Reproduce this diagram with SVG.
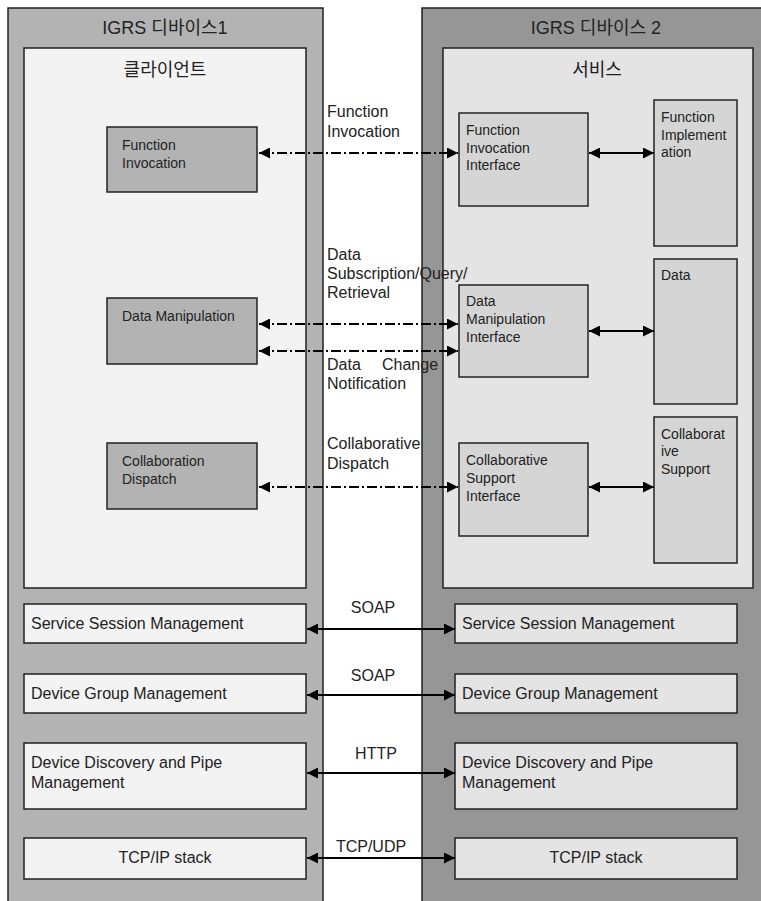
<svg xmlns="http://www.w3.org/2000/svg" width="761" height="901" viewBox="0 0 761 901">
<style>
text{font-family:"Liberation Sans",Arial,"Noto Sans CJK KR",sans-serif;fill:#222}
.t{font-size:18px}
.n{font-size:14px}
.l{font-size:16px}
.b{stroke:#222;stroke-width:1.5}
.c1{fill:#b3b3b3}
.c2{fill:#d5d5d5}
.f1{fill:#f3f3f3}
.f2{fill:#e4e4e4}
.dd{stroke:#000;stroke-width:2;fill:none;stroke-dasharray:10 3 2 3}
.sl{stroke:#000;stroke-width:2;fill:none}
</style>
<defs>
<marker id="ah" markerUnits="userSpaceOnUse" markerWidth="11" markerHeight="11" refX="10" refY="5" orient="auto-start-reverse" viewBox="0 0 10 10">
<path d="M0,0 L10,5 L0,10 z" fill="#000"/>
</marker>
</defs>
<rect width="761" height="901" fill="#fff"/>
<g id="device1">
<rect x="8" y="8" width="315" height="900" fill="#b3b3b3" class="b"/>
<text class="t" x="165" y="34" text-anchor="middle">IGRS 디바이스1</text>
</g>
<g id="device2">
<rect x="422" y="8" width="345" height="900" fill="#969696" class="b"/>
<text class="t" x="596" y="34" text-anchor="middle">IGRS 디바이스 2</text>
</g>
<g id="client">
<rect x="24" y="48" width="282" height="540" class="b f1"/>
<text class="t" x="165" y="76" text-anchor="middle">클라이언트</text>
</g>
<g id="service">
<rect x="443" y="48" width="310" height="540" class="b f2"/>
<text class="t" x="597" y="76" text-anchor="middle">서비스</text>
</g>
<g id="fi">
<rect x="107" y="127" width="150" height="65" class="b c1"/>
<text class="n" x="122" y="150">Function</text>
<text class="n" x="122" y="168">Invocation</text>
</g>
<g id="dm">
<rect x="107" y="298" width="150" height="66" class="b c1"/>
<text class="n" x="122" y="321">Data Manipulation</text>
</g>
<g id="cd">
<rect x="107" y="443" width="150" height="66" class="b c1"/>
<text class="n" x="122" y="466">Collaboration</text>
<text class="n" x="122" y="484">Dispatch</text>
</g>
<g id="fii">
<rect x="459" y="113" width="129" height="93" class="b c2"/>
<text class="n" x="466" y="135">Function</text>
<text class="n" x="466" y="153">Invocation</text>
<text class="n" x="466" y="170">Interface</text>
</g>
<g id="fimpl">
<rect x="654" y="100" width="83" height="146" class="b c2"/>
<text class="n" x="661" y="122">Function</text>
<text class="n" x="661" y="140">Implement</text>
<text class="n" x="661" y="157">ation</text>
</g>
<g id="dmi">
<rect x="459" y="285" width="129" height="92" class="b c2"/>
<text class="n" x="466" y="306">Data</text>
<text class="n" x="466" y="324">Manipulation</text>
<text class="n" x="466" y="342">Interface</text>
</g>
<g id="data">
<rect x="654" y="259" width="83" height="145" class="b c2"/>
<text class="n" x="661" y="280">Data</text>
</g>
<g id="csi">
<rect x="459" y="443" width="129" height="93" class="b c2"/>
<text class="n" x="466" y="465">Collaborative</text>
<text class="n" x="466" y="483">Support</text>
<text class="n" x="466" y="501">Interface</text>
</g>
<g id="cs">
<rect x="654" y="417" width="83" height="146" class="b c2"/>
<text class="n" x="661" y="439">Collaborat</text>
<text class="n" x="661" y="456">ive</text>
<text class="n" x="661" y="474">Support</text>
</g>
<g id="ssm1">
<rect x="24" y="604" width="282" height="39" class="b f1"/>
<text class="l" x="31" y="629">Service Session Management</text>
</g>
<g id="dgm1">
<rect x="24" y="674" width="282" height="39" class="b f1"/>
<text class="l" x="31" y="699">Device Group Management</text>
</g>
<g id="ddp1">
<rect x="24" y="743" width="282" height="66" class="b f1"/>
<text class="l" x="31" y="768">Device Discovery and Pipe</text>
<text class="l" x="31" y="788">Management</text>
</g>
<g id="tcp1">
<rect x="24" y="838" width="282" height="41" class="b f1"/>
<text class="l" x="165" y="863" text-anchor="middle">TCP/IP stack</text>
</g>
<g id="ssm2">
<rect x="455" y="604" width="282" height="39" class="b f2"/>
<text class="l" x="462" y="629">Service Session Management</text>
</g>
<g id="dgm2">
<rect x="455" y="674" width="282" height="39" class="b f2"/>
<text class="l" x="462" y="699">Device Group Management</text>
</g>
<g id="ddp2">
<rect x="455" y="743" width="282" height="66" class="b f2"/>
<text class="l" x="462" y="768">Device Discovery and Pipe</text>
<text class="l" x="462" y="788">Management</text>
</g>
<g id="tcp2">
<rect x="455" y="838" width="282" height="41" class="b f2"/>
<text class="l" x="596" y="863" text-anchor="middle">TCP/IP stack</text>
</g>
<g id="connectors">
<line x1="259" y1="153" x2="458" y2="153" class="dd" marker-start="url(#ah)" marker-end="url(#ah)"/>
<line x1="259" y1="324" x2="458" y2="324" class="dd" marker-start="url(#ah)" marker-end="url(#ah)"/>
<line x1="259" y1="351" x2="458" y2="351" class="dd" marker-start="url(#ah)" marker-end="url(#ah)"/>
<line x1="259" y1="487" x2="458" y2="487" class="dd" marker-start="url(#ah)" marker-end="url(#ah)"/>
<line x1="589" y1="153" x2="654" y2="153" class="sl" marker-start="url(#ah)" marker-end="url(#ah)"/>
<line x1="589" y1="331" x2="654" y2="331" class="sl" marker-start="url(#ah)" marker-end="url(#ah)"/>
<line x1="589" y1="487" x2="654" y2="487" class="sl" marker-start="url(#ah)" marker-end="url(#ah)"/>
<line x1="307" y1="629" x2="455" y2="629" class="sl" marker-start="url(#ah)" marker-end="url(#ah)"/>
<line x1="307" y1="695" x2="455" y2="695" class="sl" marker-start="url(#ah)" marker-end="url(#ah)"/>
<line x1="307" y1="773" x2="455" y2="773" class="sl" marker-start="url(#ah)" marker-end="url(#ah)"/>
<line x1="307" y1="858" x2="455" y2="858" class="sl" marker-start="url(#ah)" marker-end="url(#ah)"/>
<text class="l" x="327" y="117">Function</text>
<text class="l" x="327" y="137">Invocation</text>
<text class="l" x="327" y="260">Data</text>
<text class="l" x="327" y="279">Subscription/Query/</text>
<text class="l" x="327" y="298">Retrieval</text>
<text class="l" x="327" y="370">Data</text>
<text class="l" x="382" y="370">Change</text>
<text class="l" x="327" y="389">Notification</text>
<text class="l" x="327" y="449">Collaborative</text>
<text class="l" x="327" y="469">Dispatch</text>
<text class="l" x="373" y="613" text-anchor="middle">SOAP</text>
<text class="l" x="373" y="681" text-anchor="middle">SOAP</text>
<text class="l" x="376" y="759" text-anchor="middle">HTTP</text>
<text class="l" x="371" y="852" text-anchor="middle">TCP/UDP</text>
</g>
</svg>
